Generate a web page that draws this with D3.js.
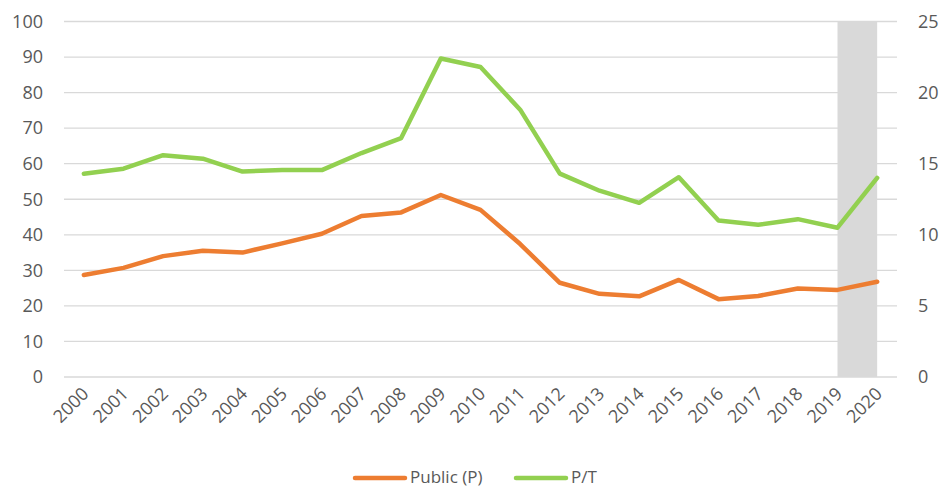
<!DOCTYPE html>
<html>
<head>
<meta charset="utf-8">
<script src="https://cdn.jsdelivr.net/npm/d3@7"></script>
<style>
  body { margin: 0; background: #fff; }
  text { font-family: "Open Sans", sans-serif; fill: #595959; }
</style>
</head>
<body>
<div id="chart"></div>
<script>
const years = ["2000","2001","2002","2003","2004","2005","2006","2007","2008","2009","2010",
               "2011","2012","2013","2014","2015","2016","2017","2018","2019","2020"];
// Public (P), left axis
const publicP = [28.7, 30.7, 34.0, 35.5, 35.0, 37.6, 40.3, 45.3, 46.3, 51.2, 47.0,
                 37.4, 26.5, 23.4, 22.7, 27.3, 21.9, 22.8, 24.9, 24.5, 26.8];
// P/T, right axis
const pt = [14.3, 14.65, 15.6, 15.35, 14.45, 14.55, 14.55, 15.75, 16.8, 22.4, 21.8,
            18.8, 14.3, 13.1, 12.25, 14.05, 11.0, 10.7, 11.1, 10.5, 14.0];
const leftTicks = [0,10,20,30,40,50,60,70,80,90,100];
const rightTicks = [0,5,10,15,20,25];
const shaded = ["2019", "2020"];
const legendItems = [{name: "Public (P)", color: "#ED7D31"}, {name: "P/T", color: "#92D050"}];

const width = 943, height = 489,
      margin = ({top: 21.5, right: 46, bottom: 112, left: 64});

let svg = d3.select("#chart")
    .append("svg")
    .attr("width", width)
    .attr("height", height);

let x = d3.scaleBand()
    .domain(years)
    .range([margin.left, width - margin.right]);

let cx = d => x(d) + x.bandwidth() / 2;

let yL = d3.scaleLinear().domain([0, 100]).range([height - margin.bottom, margin.top]);
let yR = d3.scaleLinear().domain([0, 25]).range([height - margin.bottom, margin.top]);

// gridlines
svg.append("g")
    .selectAll("line")
    .data(leftTicks)
    .join("line")
    .attr("x1", margin.left)
    .attr("x2", width - margin.right)
    .attr("y1", d => yL(d))
    .attr("y2", d => yL(d))
    .attr("stroke", "#d9d9d9")
    .attr("stroke-width", 1.3);

// shaded band
svg.append("rect")
    .attr("x", cx(shaded[0]))
    .attr("width", cx(shaded[1]) - cx(shaded[0]))
    .attr("y", yL(100))
    .attr("height", yL(0) - yL(100))
    .attr("fill", "#d9d9d9");

// axes
let left = svg.append("g")
    .attr("transform", `translate(${margin.left - 21},0)`)
    .call(d3.axisLeft(yL).tickValues(leftTicks).tickSize(0).tickPadding(0));
left.select(".domain").remove();

let right = svg.append("g")
    .attr("transform", `translate(${width - margin.right + 21},0)`)
    .call(d3.axisRight(yR).tickValues(rightTicks).tickSize(0).tickPadding(0));
right.select(".domain").remove();

let bottom = svg.append("g")
    .attr("transform", `translate(0,${yL(0)})`)
    .call(d3.axisBottom(x).tickSize(0));
bottom.select(".domain").remove();
bottom.selectAll("text")
    .attr("text-anchor", "end")
    .attr("dy", 0)
    .attr("y", 0)
    .attr("transform", "translate(6,18) rotate(-45)");

svg.selectAll(".tick text")
    .style("font-size", "18px")
    .style("fill", "#595959");

// lines
let lineL = d3.line().x((d, i) => cx(years[i])).y(d => yL(d));
let lineR = d3.line().x((d, i) => cx(years[i])).y(d => yR(d));

svg.append("path")
    .datum(publicP)
    .attr("d", lineL)
    .attr("fill", "none")
    .attr("stroke", "#ED7D31")
    .attr("stroke-width", 4.5)
    .attr("stroke-linecap", "round")
    .attr("stroke-linejoin", "round");

svg.append("path")
    .datum(pt)
    .attr("d", lineR)
    .attr("fill", "none")
    .attr("stroke", "#92D050")
    .attr("stroke-width", 4.5)
    .attr("stroke-linecap", "round")
    .attr("stroke-linejoin", "round");

// legend
let legend = svg.append("g").attr("transform", "translate(355,478)");
let lx = [0, 161];
legendItems.forEach((d, i) => {
    legend.append("line")
        .attr("x1", lx[i]).attr("x2", lx[i] + 50)
        .attr("y1", 0).attr("y2", 0)
        .attr("stroke", d.color)
        .attr("stroke-width", 4.5)
        .attr("stroke-linecap", "round");
    legend.append("text")
        .attr("x", lx[i] + 55)
        .attr("y", 0)
        .attr("dy", "0.32em")
        .style("font-size", "17px")
        .text(d.name);
});
</script>
</body>
</html>
